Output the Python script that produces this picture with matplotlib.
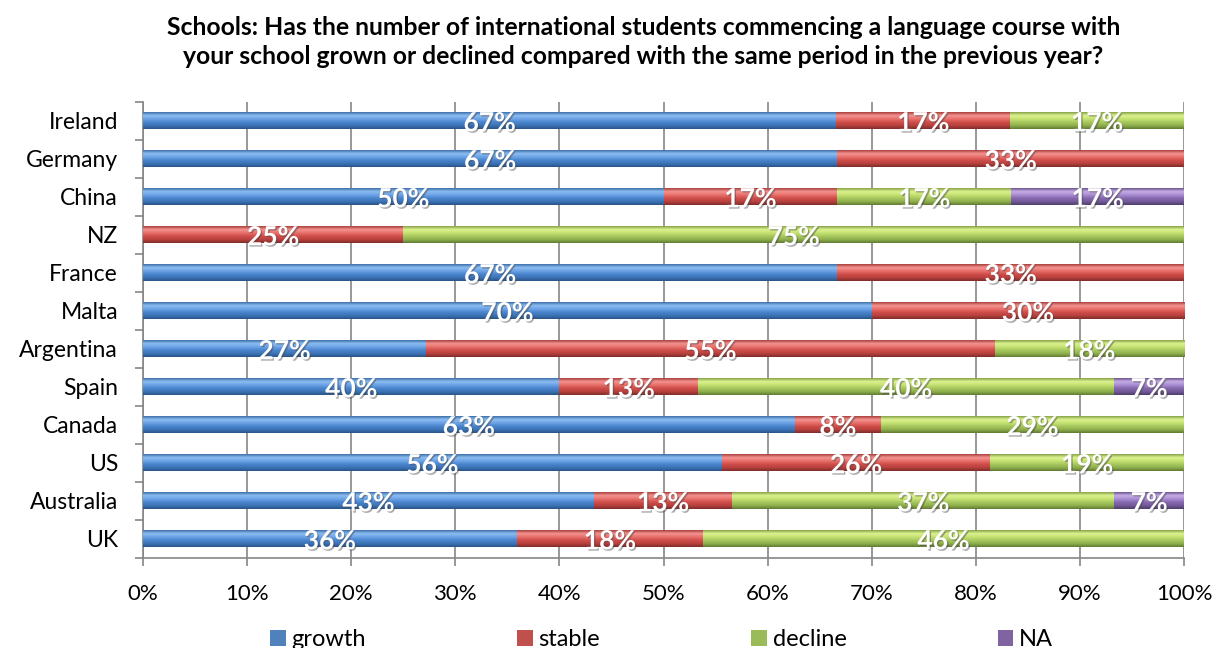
import numpy as np
import matplotlib
matplotlib.use("Agg")
import matplotlib.pyplot as plt
import matplotlib.patheffects as pe
from matplotlib.colors import LinearSegmentedColormap
from matplotlib.patches import Patch

plt.rcParams['font.family'] = ['Lato', 'DejaVu Sans']

countries = ['Ireland', 'Germany', 'China', 'NZ', 'France', 'Malta',
             'Argentina', 'Spain', 'Canada', 'US', 'Australia', 'UK']
growth  = [66.6, 66.7, 50.0, 0.0, 66.7, 70.0, 27.2, 40.0, 62.6, 55.6, 43.3, 35.9]
stable  = [16.7, 33.3, 16.7, 25.0, 33.3, 30.0, 54.6, 13.3, 8.3, 25.8, 13.3, 17.9]
decline = [16.7, 0.0, 16.7, 75.0, 0.0, 0.0, 18.2, 40.0, 29.1, 18.6, 36.7, 46.2]
na      = [0.0, 0.0, 16.6, 0.0, 0.0, 0.0, 0.0, 6.7, 0.0, 0.0, 6.7, 0.0]

series = {'growth': growth, 'stable': stable, 'decline': decline, 'NA': na}
base_colors = {'growth': '#4F81BD', 'stable': '#C0504D', 'decline': '#9BBB59', 'NA': '#8064A2'}
# top -> bottom shading for the bevelled look
shades = {
    'growth':  ['#3D6FA8', '#8DBEF2', '#6CA3E6', '#4A85CC', '#3C73B6', '#2A5486'],
    'stable':  ['#A8403D', '#F49490', '#E8706C', '#CF4E4A', '#B8413E', '#7F2C2A'],
    'decline': ['#86A24A', '#DDF28F', '#C6E272', '#A7C75E', '#8FAF4C', '#627A33'],
    'NA':      ['#6D5590', '#C6AEE6', '#A98DD2', '#8668AE', '#735A9A', '#4E3D6A'],
}

fig = plt.figure(figsize=(12.14, 6.48), dpi=100)
ax = fig.add_axes([0.1178, 0.1389, 0.8575, 0.7037])

y = np.arange(len(countries))
h = 0.43
left = np.zeros(len(countries))
grad = np.linspace(0, 1, 64).reshape(-1, 1)

for name, vals in series.items():
    vals = np.array(vals)
    bars = ax.barh(y, vals, left=left, height=h, color=base_colors[name],
                   edgecolor='none', zorder=3)
    cmap = LinearSegmentedColormap.from_list(name, shades[name])
    for bar, v in zip(bars, vals):
        if v <= 0:
            continue
        x0, w = bar.get_x(), bar.get_width()
        yc = bar.get_y() + bar.get_height() / 2
        ax.imshow(grad, cmap=cmap, aspect='auto', zorder=4,
                  extent=(x0, x0 + w, yc + h / 2, yc - h / 2), interpolation='bilinear')
        ax.text(x0 + w / 2, yc + 0.06, f'{v:.0f}%', ha='center', va='center',
                color='white', fontsize=19, fontweight='bold', zorder=6,
                path_effects=[pe.withSimplePatchShadow(offset=(1, -1), shadow_rgbFace='#444444', alpha=0.45)])
    left += vals

ax.set_xlim(0, 100)
ax.set_ylim(len(countries) - 0.5, -0.5)
ax.set_xticks(np.arange(0, 101, 10))
ax.set_xticklabels([f'{t}%' for t in range(0, 101, 10)], fontsize=16)
ax.set_yticks(y)
ax.set_yticklabels(countries, fontsize=16.5)
ax.set_yticks(np.arange(-0.5, len(countries)), minor=True)
ax.tick_params(axis='y', which='major', length=0, pad=18)
ax.tick_params(axis='y', which='minor', length=6, color='#868686', width=1.2, direction='out')
ax.tick_params(axis='x', length=6, color='#868686', width=1.2, direction='out', pad=13)
ax.grid(axis='x', color='#868686', linewidth=1.2, zorder=0)
ax.set_axisbelow(True)
for s in ['top', 'right']:
    ax.spines[s].set_visible(False)
for s in ['left', 'bottom']:
    ax.spines[s].set_color('#868686')
    ax.spines[s].set_linewidth(1.2)

fig.text(0.53, 0.935,
         'Schools: Has the number of international students commencing a language course with\n'
         'your school grown or declined compared with the same period in the previous year?',
         ha='center', va='center', fontsize=17.8, fontweight='bold', linespacing=1.35)

handles = [Patch(facecolor=base_colors[n], edgecolor='none') for n in series]
fig.legend(handles, list(series.keys()), loc='center', bbox_to_anchor=(0.545, 0.013),
           ncol=4, frameon=False, fontsize=17, handlelength=0.65, handleheight=0.65,
           handletextpad=0.25, columnspacing=6.4, borderpad=0)

fig.savefig('out.png', dpi=100)
